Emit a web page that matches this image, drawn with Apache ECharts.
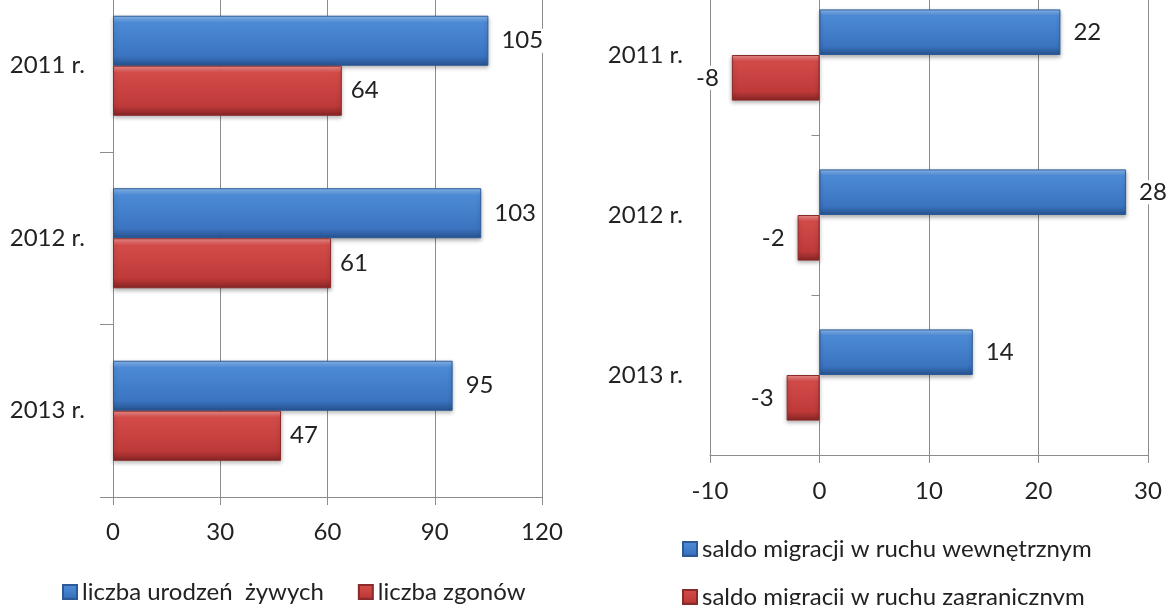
<!DOCTYPE html>
<html>
<head>
<meta charset="utf-8">
<script src="https://cdn.jsdelivr.net/npm/echarts@6/dist/echarts.min.js"></script>
<style>
html, body { margin: 0; padding: 0; background: #fff; }
#chart { width: 1171px; height: 605px; }
</style>
</head>
<body>
<div id="chart"></div>
<script>
// kategorie
var years = ['2011 r.', '2012 r.', '2013 r.'];

// wykres lewy - ruch naturalny
var birthsName = 'liczba urodzeń  żywych';
var deathsName = 'liczba zgonów';
var births = [105, 103, 95];
var deaths = [64, 61, 47];
var leftTicks = [0, 30, 60, 90, 120];

// wykres prawy - saldo migracji
var internalName = 'saldo migracji w ruchu wewnętrznym';
var foreignName = 'saldo migracji w ruchu zagranicznym';
var internal = [22, 28, 14];
var foreign = [-8, -2, -3];
var rightTicks = [-10, 0, 10, 20, 30];

var FONT = 'Lato';
var FS = 24;
var TXT = '#222222';
var GRIDC = '#8c8c8c';

function blueGrad() {
    return new echarts.graphic.LinearGradient(0, 0, 0, 1, [
        {offset: 0, color: '#8dbdf2'},
        {offset: 0.14, color: '#4c8ad6'},
        {offset: 0.8, color: '#3b74c0'},
        {offset: 1, color: '#26528f'}
    ]);
}
function redGrad() {
    return new echarts.graphic.LinearGradient(0, 0, 0, 1, [
        {offset: 0, color: '#f29290'},
        {offset: 0.14, color: '#d24b49'},
        {offset: 0.8, color: '#be3a39'},
        {offset: 1, color: '#862424'}
    ]);
}

function barLabel(pos, dist) {
    return {
        show: true,
        position: pos,
        distance: dist,
        color: TXT,
        fontFamily: FONT,
        fontSize: FS,
        backgroundColor: '#fff',
        padding: [0, 3]
    };
}

function legendBox(names, left, top) {
    return {
        data: names,
        left: left, top: top,
        itemWidth: 14, itemHeight: 14, itemGap: 34,
        icon: 'rect',
        textStyle: {fontFamily: FONT, fontSize: FS, color: TXT}
    };
}

var myChart = echarts.init(document.getElementById('chart'));

var option = {
    animation: false,
    backgroundColor: '#fff',
    textStyle: {fontFamily: FONT},
    grid: [
        {left: 113, top: -20.5, width: 429, height: 517.5, outerBoundsMode: 'none'},
        {left: 710, top: -25, width: 438, height: 480, outerBoundsMode: 'none'}
    ],
    legend: [
        legendBox([birthsName, deathsName], 57, 575),
        legendBox([internalName], 677, 532),
        legendBox([foreignName], 677, 580)
    ],
    xAxis: [
        {
            gridIndex: 0, type: 'value',
            min: leftTicks[0], max: leftTicks[leftTicks.length - 1], interval: 30,
            axisLine: {show: true, lineStyle: {color: GRIDC}},
            axisTick: {show: true, length: 8, lineStyle: {color: GRIDC}},
            splitLine: {show: true, lineStyle: {color: GRIDC}},
            axisLabel: {margin: 23, fontSize: FS, color: TXT, fontFamily: FONT}
        },
        {
            gridIndex: 1, type: 'value',
            min: rightTicks[0], max: rightTicks[rightTicks.length - 1], interval: 10,
            axisLine: {show: true, onZero: false, lineStyle: {color: GRIDC}},
            axisTick: {show: true, length: 8, lineStyle: {color: GRIDC}},
            splitLine: {show: true, lineStyle: {color: GRIDC}},
            axisLabel: {margin: 24, fontSize: FS, color: TXT, fontFamily: FONT}
        }
    ],
    yAxis: [
        {
            gridIndex: 0, type: 'category', data: years, inverse: true,
            axisLine: {show: true, lineStyle: {color: GRIDC}},
            axisTick: {show: true, length: 13, lineStyle: {color: GRIDC}},
            axisLabel: {margin: 28, fontSize: FS, color: TXT, fontFamily: FONT}
        },
        {
            gridIndex: 1, type: 'category', data: years, inverse: true,
            position: 'left',
            axisLine: {show: true, onZero: false, lineStyle: {color: GRIDC}},
            axisTick: {show: false},
            axisLabel: {margin: 27, fontSize: FS, color: TXT, fontFamily: FONT}
        },
        {
            // os przy zerze - tylko znaczniki
            gridIndex: 1, type: 'category', data: years, inverse: true,
            position: 'left',
            axisLine: {show: false, onZero: true},
            axisTick: {show: true, length: 8, lineStyle: {color: GRIDC}},
            axisLabel: {show: false},
            splitLine: {show: false}
        }
    ],
    series: [
        {
            name: birthsName, type: 'bar', xAxisIndex: 0, yAxisIndex: 0,
            data: births, barGap: '0%', barCategoryGap: '42%',
            itemStyle: {color: blueGrad(), borderColor: '#2c5a96', borderWidth: 1,
                shadowColor: 'rgba(0,0,0,0.3)', shadowBlur: 4, shadowOffsetY: 2},
            label: barLabel('right', 10)
        },
        {
            name: deathsName, type: 'bar', xAxisIndex: 0, yAxisIndex: 0,
            data: deaths, barGap: '0%', barCategoryGap: '42%',
            itemStyle: {color: redGrad(), borderColor: '#8a2a2a', borderWidth: 1,
                shadowColor: 'rgba(0,0,0,0.3)', shadowBlur: 4, shadowOffsetY: 2},
            label: barLabel('right', 6)
        },
        {
            name: internalName, type: 'bar', xAxisIndex: 1, yAxisIndex: 1,
            data: internal, barGap: '0%', barCategoryGap: '43%',
            itemStyle: {color: blueGrad(), borderColor: '#2c5a96', borderWidth: 1,
                shadowColor: 'rgba(0,0,0,0.3)', shadowBlur: 4, shadowOffsetY: 2},
            label: barLabel('right', 10)
        },
        {
            name: foreignName, type: 'bar', xAxisIndex: 1, yAxisIndex: 1,
            data: foreign, barGap: '0%', barCategoryGap: '43%',
            itemStyle: {color: redGrad(), borderColor: '#8a2a2a', borderWidth: 1,
                shadowColor: 'rgba(0,0,0,0.3)', shadowBlur: 4, shadowOffsetY: 2},
            label: barLabel('left', 10)
        }
    ]
};

myChart.setOption(option);
</script>
</body>
</html>
